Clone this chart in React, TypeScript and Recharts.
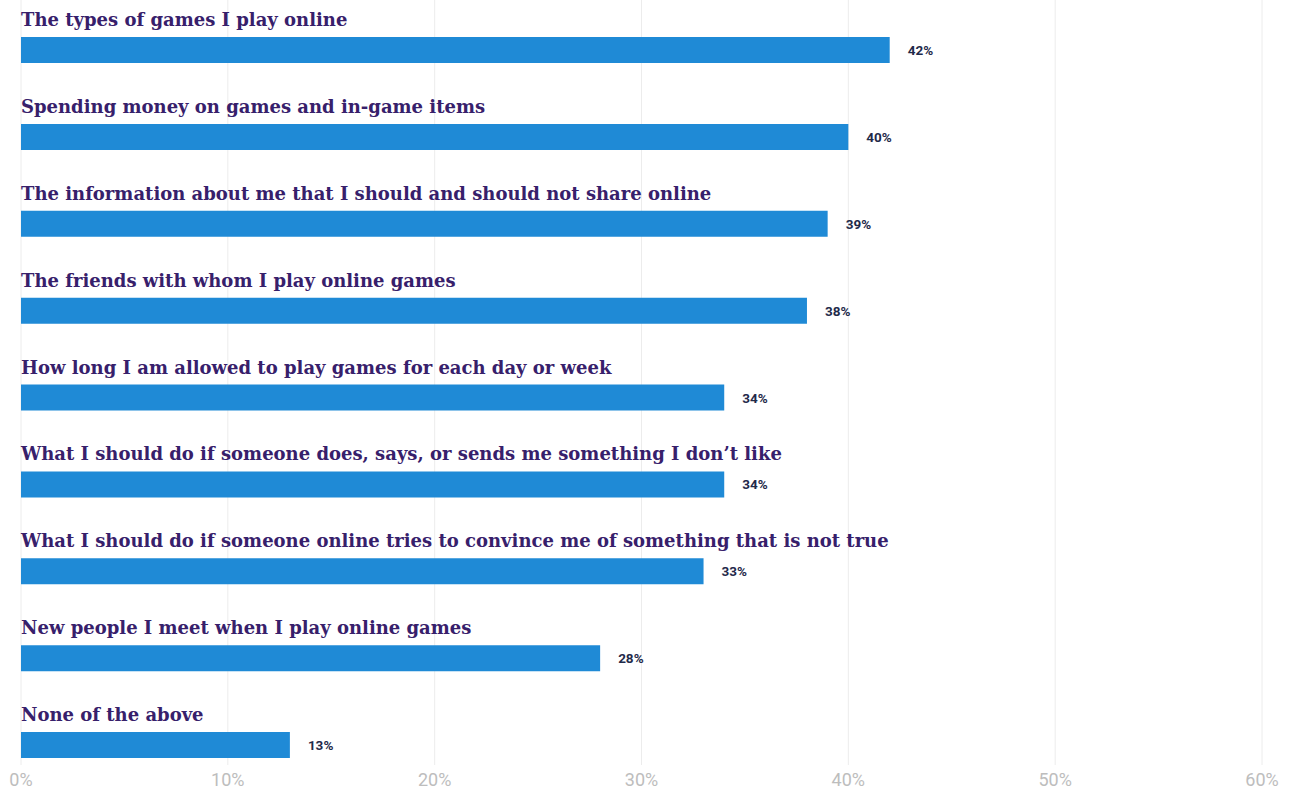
import React from 'react';
import { BarChart, Bar, XAxis, YAxis, CartesianGrid, LabelList } from 'recharts';

const topics = [
  'The types of games I play online',
  'Spending money on games and in-game items',
  'The information about me that I should and should not share online',
  'The friends with whom I play online games',
  'How long I am allowed to play games for each day or week',
  "What I should do if someone does, says, or sends me something I don\u2019t like",
  'What I should do if someone online tries to convince me of something that is not true',
  'New people I meet when I play online games',
  'None of the above',
];
const shares = [42, 40, 39, 38, 34, 34, 33, 28, 13];
const xTicks = [0, 10, 20, 30, 40, 50, 60];

const data = topics.map((topic, i) => ({ topic, value: shares[i] }));

const TopicLabel = (props: any) => {
  const { x, y, value } = props;
  return (
    <text x={x} y={y - 11} fill="#37206b" fontSize={18} fontWeight={600} fontFamily="DejaVu Serif">
      {value}
    </text>
  );
};

const ValueLabel = (props: any) => {
  const { x, y, width, height, value } = props;
  return (
    <text
      x={x + width + 18}
      y={y + height / 2}
      dominantBaseline="central"
      fill="#1f2a4a"
      fontSize={13.5}
      fontWeight={700}
      fontFamily="Roboto"
    >
      {value}%
    </text>
  );
};

const GridLine = (props: any) => {
  const { x1, x2, y1, y2 } = props;
  return <line x1={x1} x2={x2} y1={y1} y2={y2} stroke="#ececec" strokeWidth={1} />;
};

export default function App() {
  return (
    <div style={{ position: 'absolute', left: 0, top: 0, background: '#fff' }}>
      <BarChart
        width={1293}
        height={795}
        data={data}
        layout="vertical"
        margin={{ top: 0, right: 31, bottom: 0, left: 21 }}
      >
        <CartesianGrid horizontal={false} vertical={GridLine} />
        <XAxis
          type="number"
          domain={[0, 60]}
          ticks={xTicks}
          tickFormatter={(v) => `${v}%`}
          axisLine={false}
          tickLine={false}
          tickMargin={2}
          height={30}
          tick={{ fill: '#bdbdbd', fontSize: 18, fontFamily: 'Roboto' }}
        />
        <YAxis type="category" dataKey="topic" hide padding={{ top: 7, bottom: -24 }} />
        <Bar dataKey="value" fill="#1f8ad6" barSize={26} isAnimationActive={false}>
          <LabelList dataKey="topic" content={TopicLabel} />
          <LabelList dataKey="value" content={ValueLabel} />
        </Bar>
      </BarChart>
    </div>
  );
}
